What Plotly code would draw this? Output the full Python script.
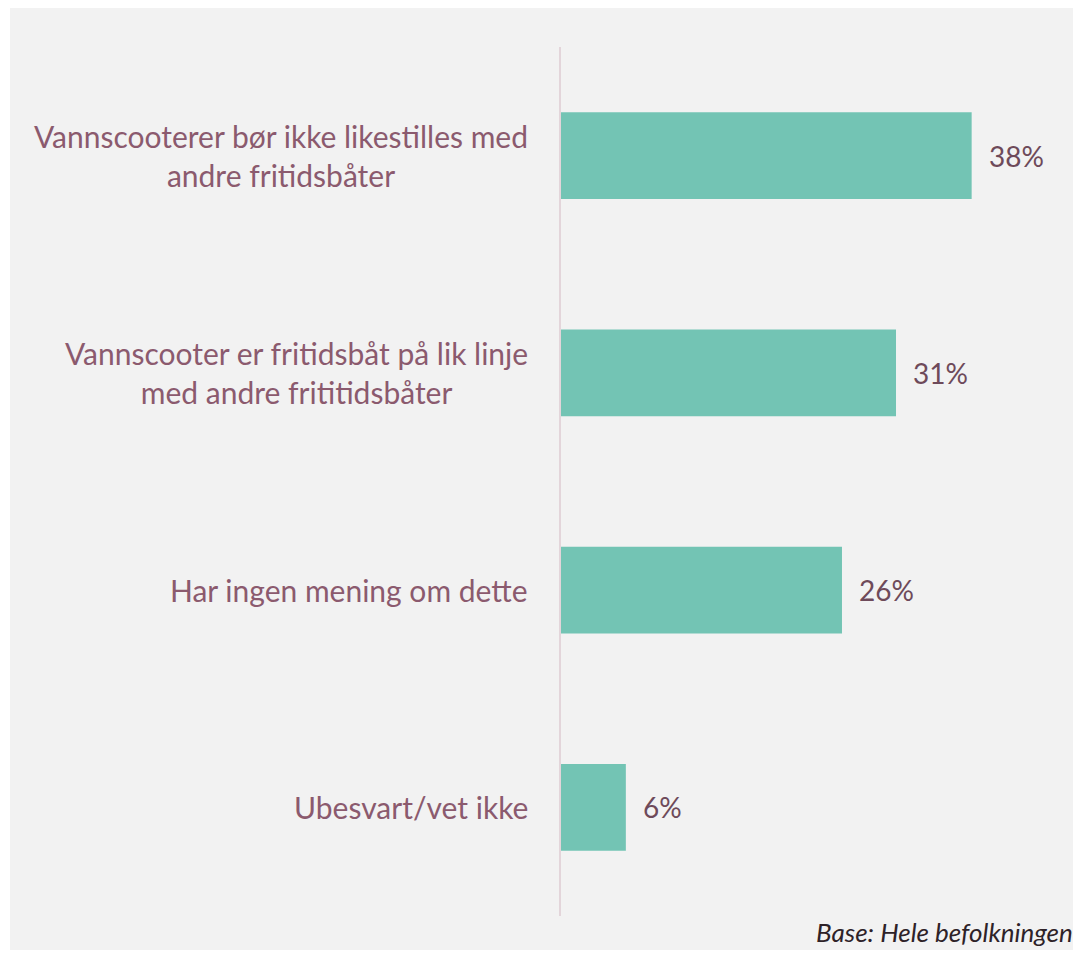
import plotly.graph_objects as go

categories = [
    "Vannscooterer bør ikke likestilles med<br>andre fritidsbåter",
    "Vannscooter er fritidsbåt på lik linje<br>med andre frititidsbåter",
    "Har ingen mening om dette",
    "Ubesvart/vet ikke",
]
values = [38, 31, 26, 6]
value_labels = ["38%", "31%", "26%", "6%"]

# page body has an 8px margin, so the figure is offset by 8px
W, H = 1073, 946
L, T, R, B = 553, 39, 11, 38
PW, PH = W - L - R, H - T - B

BAR = "#73c4b4"
LABEL = "#8b5a6e"
VALUE = "#6e4a5a"
FONT = "Lato"

fig = go.Figure()
fig.add_trace(go.Bar(
    x=values, y=categories, orientation="h",
    marker=dict(color=BAR, line=dict(width=0)),
    width=0.4, hoverinfo="skip",
))

for v, c, t in zip(values, categories, value_labels):
    fig.add_annotation(x=v, y=c, text=t, showarrow=False, xanchor="left",
                       xshift=15, font=dict(family=FONT, size=28, color=VALUE))
    fig.add_annotation(x=0, y=c, text=c, showarrow=False, xanchor="right",
                       align="center", xshift=-31,
                       font=dict(family=FONT, size=30, color=LABEL))

fig.add_shape(type="rect", xref="paper", yref="paper",
              x0=-(L - 2) / PW, x1=(W - L) / PW,
              y0=-(942 - (T + PH)) / PH, y1=(T + PH + 1) / PH,
              line=dict(width=0), fillcolor="#f2f2f2", layer="below")

fig.add_annotation(xref="paper", yref="paper", x=(1067 - L) / PW,
                   y=-(924 - (T + PH)) / PH, xanchor="right", yanchor="middle",
                   text="<i>Base: Hele befolkningen</i>", showarrow=False,
                   font=dict(family=FONT, size=26, color="#2e2228"))

fig.update_layout(
    width=W, height=H,
    margin=dict(l=L, r=R, t=T, b=B, autoexpand=False),
    paper_bgcolor="white",
    plot_bgcolor="#f2f2f2",
    showlegend=False,
    xaxis=dict(range=[0, 47.1], visible=False, fixedrange=True),
    yaxis=dict(autorange="reversed", showline=True, linecolor="#e3d5da", linewidth=2,
               ticks="", showgrid=False, zeroline=False, showticklabels=False),
)

fig.write_html("out.html")
